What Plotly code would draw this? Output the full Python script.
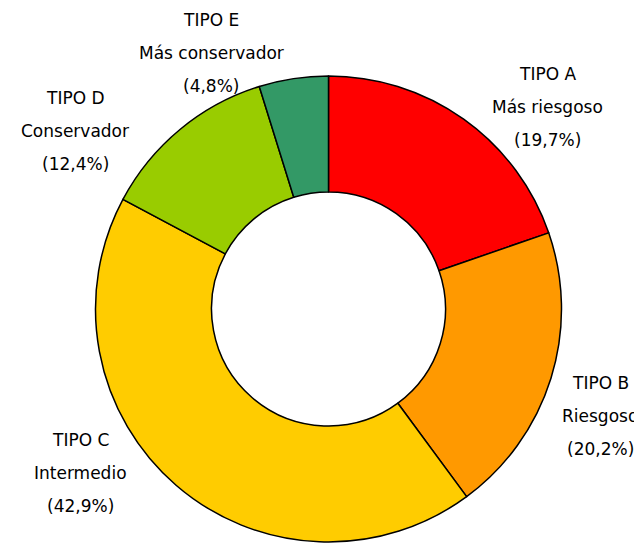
import plotly.graph_objects as go

tipos = ["TIPO A", "TIPO B", "TIPO C", "TIPO D", "TIPO E"]
descripciones = ["Más riesgoso", "Riesgoso", "Intermedio", "Conservador", "Más conservador"]
porcentajes = [19.7, 20.2, 42.9, 12.4, 4.8]
colores = ["#FF0000", "#FF9900", "#FFCC00", "#99CC00", "#339966"]

# label anchor positions (window pixels: x center, y of first line)
label_pos = [(547, 74), (600, 383), (80, 440), (75, 98), (211, 20)]

OFF = 8  # page body margin
W, H = 642 - OFF, 543 - OFF
cx, cy, r = 328.5 - OFF, 309 - OFF, 233

fig = go.Figure(go.Pie(
    labels=tipos,
    values=porcentajes,
    sort=False,
    direction="clockwise",
    rotation=0,
    hole=0.502,
    marker=dict(colors=colores, line=dict(color="black", width=1.5)),
    textinfo="none",
    hoverinfo="label+percent",
    showlegend=False,
    domain=dict(x=[(cx - r) / W, (cx + r) / W], y=[1 - (cy + r) / H, 1 - (cy - r) / H]),
))

annotations = []
for t, d, p, (px, py) in zip(tipos, descripciones, porcentajes, label_pos):
    lines = [t, d, "(" + f"{p:.1f}".replace(".", ",") + "%)"]
    for i, line in enumerate(lines):
        annotations.append(dict(
            text=line, x=(px - OFF) / W, y=1 - (py - OFF + i * 33) / H,
            xref="paper", yref="paper",
            xanchor="center", yanchor="middle", showarrow=False,
            font=dict(family="DejaVu Sans", size=17, color="#000000"),
        ))

fig.update_layout(
    width=W, height=H,
    margin=dict(l=0, r=0, t=0, b=0),
    paper_bgcolor="white", plot_bgcolor="white",
    annotations=annotations,
)
fig.write_html("out.html")
